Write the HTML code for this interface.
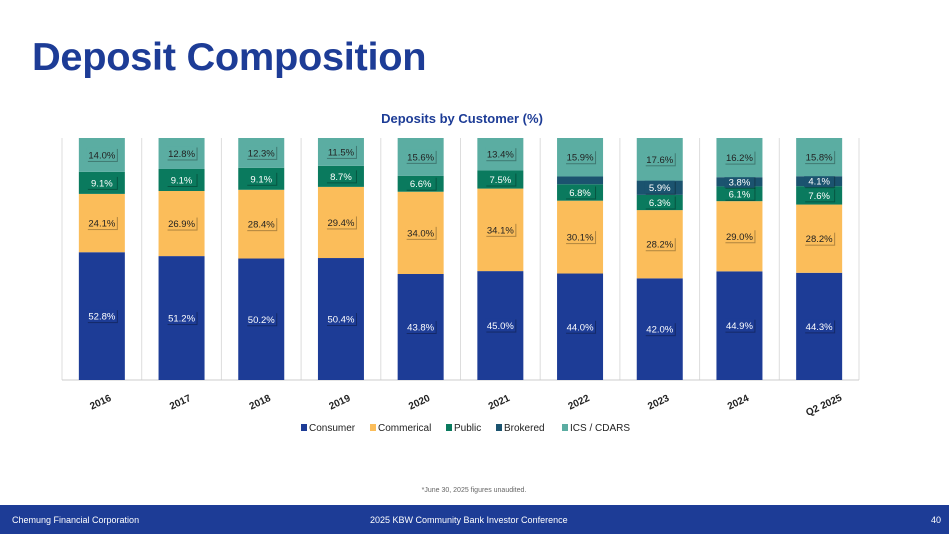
<!DOCTYPE html>
<html><head><meta charset="utf-8"><style>
body{margin:0;width:949px;height:534px;overflow:hidden;background:#fff;font-family:"Liberation Sans",sans-serif;position:relative}
#title{position:absolute;left:32px;top:36px;font-size:39px;font-weight:bold;color:#1d3c96;letter-spacing:-0.3px;transform:scaleX(1.02);transform-origin:left}
#footer{position:absolute;left:0;top:505px;width:949px;height:29px;background:#1d3c96;color:#fff;font-size:9px}
#footer span{position:absolute;top:10px}
</style></head><body>
<div id="title">Deposit Composition</div>
<svg id="chart" width="949" height="500" style="position:absolute;left:0;top:0"></svg>
<div id="footer">
<span style="left:12px">Chemung Financial Corporation</span>
<span style="left:370px">2025 KBW Community Bank Investor Conference</span>
<span style="left:931px">40</span>
</div>
<script>
const categories=["2016","2017","2018","2019","2020","2021","2022","2023","2024","Q2 2025"];
const consumer=[52.8,51.2,50.2,50.4,43.8,45.0,44.0,42.0,44.9,44.3];
const commercial=[24.1,26.9,28.4,29.4,34.0,34.1,30.1,28.2,29.0,28.2];
const publicDep=[9.1,9.1,9.1,8.7,6.6,7.5,6.8,6.3,6.1,7.6];
const brokered=[0,0,0,0,0,0,3.2,5.9,3.8,4.1];
const ics=[14.0,12.8,12.3,11.5,15.6,13.4,15.9,17.6,16.2,15.8];
const showLabel=[true,true,true,true,true,true,false,true,true,true];
const seriesNames=["Consumer","Commerical","Public","Brokered","ICS / CDARS"];
const colors=["#1d3c96","#fbbd5a","#0a7a5e","#1b536f","#5badA2"];
const NS="http://www.w3.org/2000/svg";
const svg=document.getElementById('chart');
const x0=62,step=79.7,bw=46,yTop=138,yBot=380;
const xc=i=>x0+step*(i+0.5);
const yv=v=>yBot-(yBot-yTop)*v/100;
function mk(t,a){const e=document.createElementNS(NS,t);for(const k in a)e.setAttribute(k,a[k]);svg.appendChild(e);return e;}
let t=mk('text',{x:462,y:123,'text-anchor':'middle','font-size':13,'font-weight':'bold',fill:'#1d3c96'});


t.textContent='Deposits by Customer (%)';
for(let i=0;i<=categories.length;i++){let l=mk('line',{x1:x0+step*i,x2:x0+step*i,y1:yTop,y2:yBot,stroke:'#ddd'});

}
let ax=mk('line',{x1:x0,x2:x0+step*10,y1:yBot,y2:yBot,stroke:'#ccc'});


const series=[consumer,commercial,publicDep,brokered,ics];
const keys=["consumer","commercial","public","brokered","ics"];
categories.forEach((c,i)=>{
 let cum=0;
 series.forEach((s,k)=>{
  const v=s[i];
  const y1=yv(cum+v),y2=yv(cum);
  if(v>0){
   let r=mk('rect',{x:xc(i)-bw/2,y:y1,width:bw,height:y2-y1,fill:colors[k]});
   
   
   if(k!==3||showLabel[i]){
    const cy=(y1+y2)/2, lbl=v.toFixed(1)+'%';
    const sh=mk('rect',{x:xc(i)-14,y:cy-6,width:30,height:13,fill:'rgba(0,0,0,0.3)'});
    
    
    const bx=mk('rect',{x:xc(i)-15,y:cy-7,width:30,height:13,fill:colors[k]});
    
    
    const tx=mk('text',{x:xc(i),y:cy+3.5,'text-anchor':'middle','font-size':9.5,fill:(k===1||k===4)?'#222':'#fff'});
    
    
    tx.textContent=lbl;
   }
  }
  cum+=v;
 });
 const lx=xc(i)+(c.length>4?6:0), ly=405+(c.length>4?3:0);
 const tl=mk('text',{x:lx,y:ly,'text-anchor':'middle','font-size':10,'font-weight':'bold',fill:'#222',transform:`rotate(-25 ${lx} ${ly})`});
 
 
 tl.textContent=c;
});
const legX=[301,370,446,496,562];
seriesNames.forEach((n,k)=>{
 const g=document.createElementNS(NS,'g');svg.appendChild(g);
 
 
 const r=document.createElementNS(NS,'rect');
 r.setAttribute('x',legX[k]);r.setAttribute('y',424);r.setAttribute('width',6);r.setAttribute('height',7);r.setAttribute('fill',colors[k]);g.appendChild(r);
 const tx=document.createElementNS(NS,'text');
 tx.setAttribute('x',legX[k]+8);tx.setAttribute('y',431);tx.setAttribute('font-size',10);tx.setAttribute('fill','#222');tx.textContent=n;g.appendChild(tx);
});
const note=mk('text',{x:474,y:492,'text-anchor':'middle','font-size':7,fill:'#666'});


note.textContent='*June 30, 2025 figures unaudited.';
</script>
</body></html>
